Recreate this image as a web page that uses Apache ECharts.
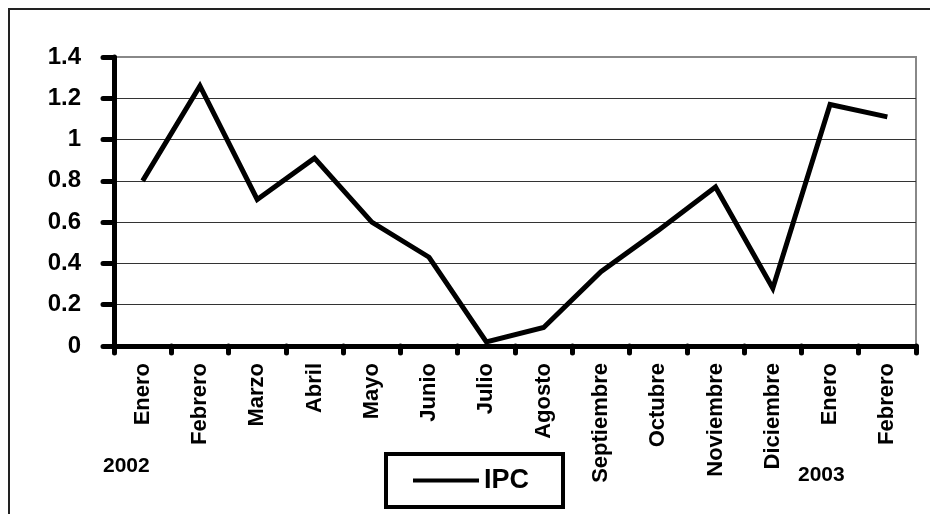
<!DOCTYPE html>
<html>
<head>
<meta charset="utf-8">
<script src="https://cdn.jsdelivr.net/npm/echarts@6/dist/echarts.min.js"></script>
<style>
  html, body { margin: 0; padding: 0; background: #fff; }
  #chart { width: 930px; height: 514px; }
</style>
</head>
<body>
<div id="chart"></div>
<script>
// Monthly IPC values, January 2002 – February 2003
const months = ['Enero', 'Febrero', 'Marzo', 'Abril', 'Mayo', 'Junio', 'Julio',
  'Agosto', 'Septiembre', 'Octubre', 'Noviembre', 'Diciembre', 'Enero', 'Febrero'];
const ipc = [0.80, 1.26, 0.71, 0.91, 0.60, 0.43, 0.02, 0.09, 0.36, 0.56, 0.77, 0.28, 1.17, 1.11];
const seriesName = 'IPC';
const yearLabels = ['2002', '2003'];

const FONT = "'Liberation Sans', Arial, sans-serif";

const chart = echarts.init(document.getElementById('chart'), null, { renderer: 'canvas' });

// horizontal grid lines: dark inside the plot, grey for the top frame edge
const gridColors = ['#333', '#333', '#333', '#333', '#333', '#333', '#333', '#888'];

chart.setOption({
  animation: false,
  backgroundColor: '#fff',
  grid: {
    left: 114, top: 57, right: 14, bottom: 168,
    show: true, borderColor: '#888', borderWidth: 2, backgroundColor: 'transparent'
  },
  xAxis: {
    type: 'category',
    data: months,
    boundaryGap: true,
    axisLine: { lineStyle: { color: '#000', width: 5 } },
    axisTick: { show: true, length: 7, lineStyle: { color: '#000', width: 5, cap: 'round' } },
    axisLabel: {
      rotate: 90, margin: 17, interval: 0,
      color: '#000', fontFamily: FONT, fontWeight: 'bold', fontSize: 22
    },
    splitLine: { show: false }
  },
  yAxis: {
    type: 'value',
    min: 0, max: 1.4, interval: 0.2,
    axisLine: { show: true, lineStyle: { color: '#000', width: 5 } },
    axisTick: { show: true, length: 11, lineStyle: { color: '#000', width: 5, cap: 'round' } },
    axisLabel: {
      margin: 33, color: '#000', fontFamily: FONT, fontWeight: 'bold', fontSize: 24
    },
    splitLine: { show: true, lineStyle: { color: gridColors, width: 1 } }
  },
  legend: {
    left: 386, top: 454,
    data: [{ name: seriesName, icon: 'rect' }],
    itemWidth: 66, itemHeight: 4,
    padding: [13, 34, 13, 27],
    borderColor: '#000', borderWidth: 4, borderRadius: 0,
    textStyle: { color: '#000', fontFamily: FONT, fontWeight: 'bold', fontSize: 27 }
  },
  series: [{
    name: seriesName,
    type: 'line',
    data: ipc,
    symbol: 'none',
    lineStyle: { color: '#000', width: 5, join: 'miter' },
    itemStyle: { color: '#000' }
  }],
  graphic: [
    {
      type: 'rect', silent: true, z: 100,
      shape: { x: 9, y: 9, width: 960, height: 540 },
      style: { fill: 'none', stroke: '#222', lineWidth: 2 }
    },
    {
      type: 'text', silent: true, left: 103, top: 456,
      style: { text: yearLabels[0], fill: '#000', font: "bold 21px " + FONT }
    },
    {
      type: 'text', silent: true, left: 798, top: 465,
      style: { text: yearLabels[1], fill: '#000', font: "bold 21px " + FONT }
    }
  ]
});
</script>
</body>
</html>
